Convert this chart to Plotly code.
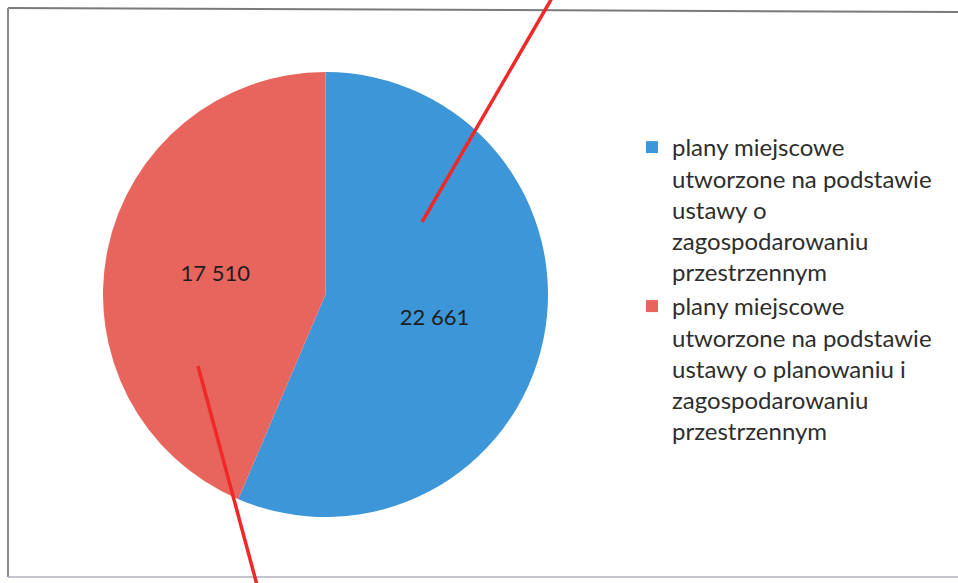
import plotly.graph_objects as go

categories = [
    "plany miejscowe<br>utworzone na podstawie<br>ustawy o<br>zagospodarowaniu<br>przestrzennym",
    "plany miejscowe<br>utworzone na podstawie<br>ustawy o planowaniu i<br>zagospodarowaniu<br>przestrzennym",
]
values = [22661, 17510]
colors = ["#3c96d7", "#e8655e"]

W, H = 958, 583


def px(x):
    return x / W


def py(y):
    return 1 - y / H


fig = go.Figure(
    go.Pie(
        labels=categories,
        values=values,
        sort=False,
        direction="clockwise",
        rotation=0,
        marker=dict(colors=colors, line=dict(width=0)),
        texttemplate="%{value:,}",
        textposition="inside",
        insidetextorientation="horizontal",
        textfont=dict(family="Lato", size=22, color="#1e1e1e"),
        hoverinfo="label+value",
        domain=dict(x=[px(103), px(548)], y=[py(517), py(72)]),
    )
)

shapes = [
    # frame
    dict(type="line", x0=px(8), y0=py(8), x1=px(960), y1=py(12), line=dict(color="#7a7a7a", width=2)),
    dict(type="line", x0=px(8), y0=py(8), x1=px(8), y1=py(577), line=dict(color="#8a8a8a", width=2)),
    dict(type="line", x0=px(8), y0=py(577), x1=px(960), y1=py(577), line=dict(color="#b0b0c0", width=1.5)),
    # red pen marks
    dict(type="line", x0=px(422), y0=py(222), x1=px(552), y1=py(-2), line=dict(color="#f02828", width=3.5)),
    dict(type="line", x0=px(198), y0=py(366), x1=px(257), y1=py(585), line=dict(color="#f02828", width=3.5)),
]

fig.update_layout(
    width=W,
    height=H,
    margin=dict(l=0, r=0, t=0, b=0),
    paper_bgcolor="white",
    plot_bgcolor="white",
    separators=", ",
    showlegend=True,
    legend=dict(
        x=px(632),
        y=py(125),
        xanchor="left",
        yanchor="top",
        valign="top",
        font=dict(family="Lato", size=24, color="#2e2e2e"),
        bgcolor="rgba(0,0,0,0)",
    ),
    shapes=shapes,
)

fig.write_html(
    "out.html",
    config={"displayModeBar": False},
    post_script="document.body.style.margin='0';document.body.style.overflow='hidden';",
)
